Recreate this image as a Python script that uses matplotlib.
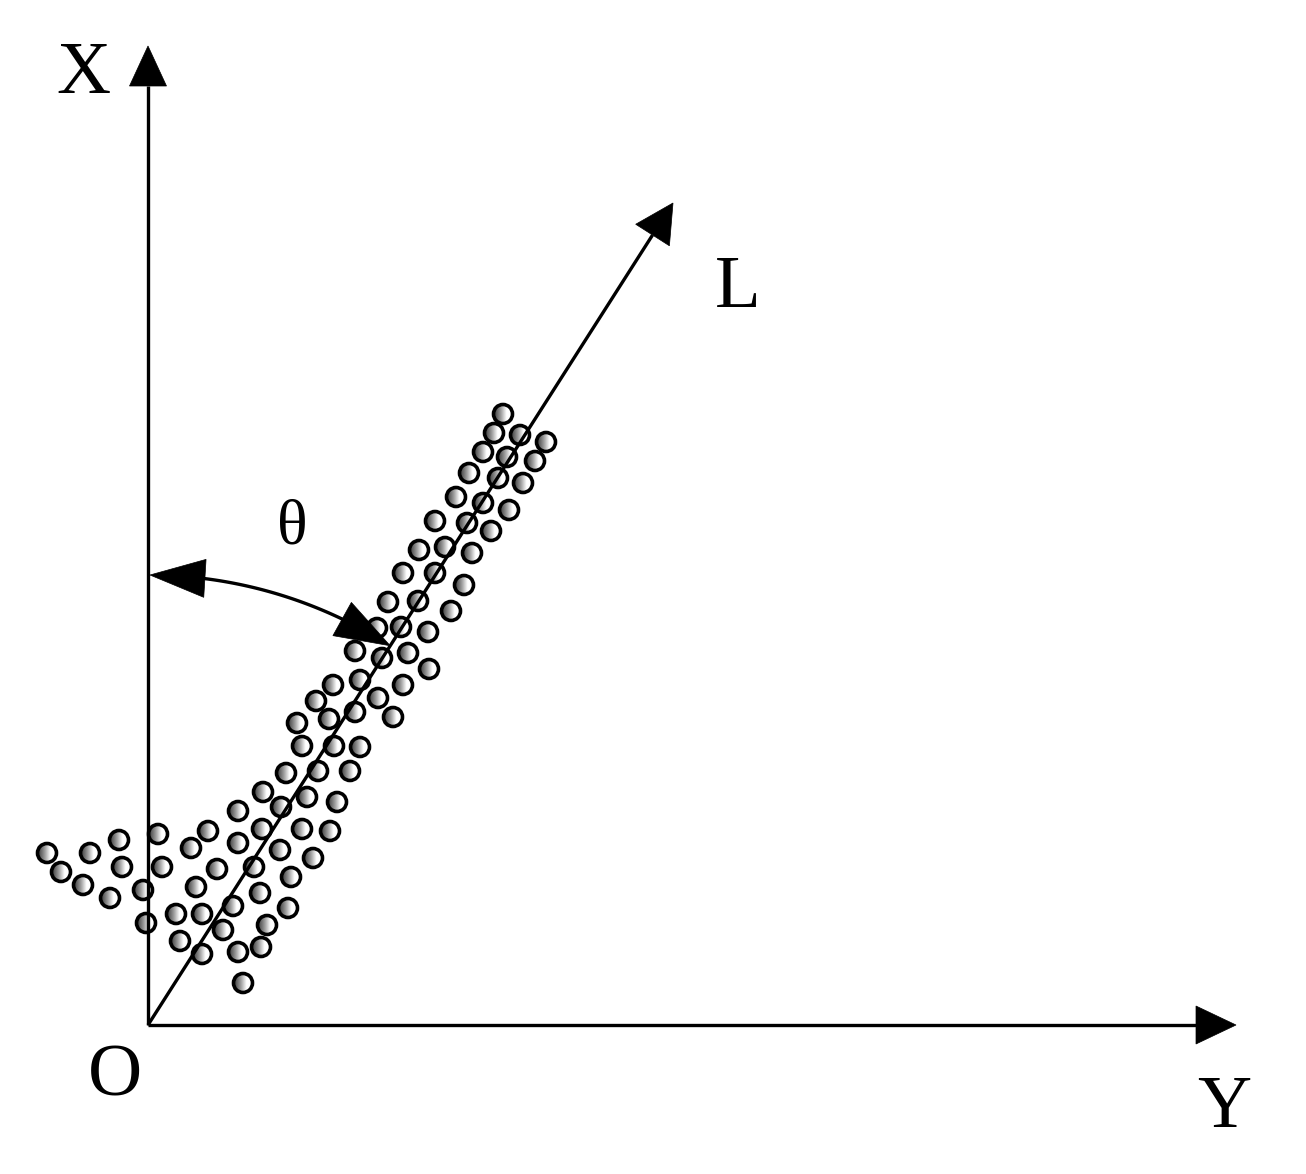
import numpy as np
import matplotlib
matplotlib.use('Agg')
import matplotlib.pyplot as plt
from matplotlib.patches import Circle, Polygon
from matplotlib.colors import LinearSegmentedColormap

# ---------------- data (offsets from origin O, x to the right, y upward) ----------------
pts_x = [-101, -87, -65, -58, -38, -29, -26, -5, -2, 10, 14, 43, 60, 90, 90, 69, 48, 28,
         54, 32, 54, 75, 85, 106, 114, 132, 154, 182, 165, 143, 112, 140, 119, 113, 90, 95,
         133, 159, 189, 115, 138, 170, 202, 154, 186, 212, 149, 168, 181, 207, 185, 212,
         230, 245, 255, 207, 234, 260, 281, 229, 253, 280, 240, 270, 303, 255, 287, 316,
         271, 297, 324, 287, 319, 343, 308, 335, 361, 321, 350, 375, 335, 359, 387, 346,
         372, 398, 355]
pts_y = [172, 153, 140, 172, 127, 185, 158, 135, 102, 191, 158, 177, 194, 214, 182, 156,
         138, 111, 111, 84, 71, 95, 119, 158, 196, 175, 196, 194, 167, 148, 132, 117, 100,
         78, 73, 42, 218, 228, 223, 233, 252, 254, 254, 279, 279, 278, 302, 324, 306, 313,
         340, 345, 327, 308, 340, 374, 367, 372, 356, 397, 398, 393, 423, 424, 414, 452,
         452, 440, 475, 478, 472, 504, 502, 494, 528, 522, 515, 552, 547, 542, 573, 568,
         564, 592, 590, 583, 611]

x_axis_len = 979      # length of vertical axis (labelled X)
y_axis_len = 1088     # length of horizontal axis (labelled Y)
L_tip = (525, 822)    # tip of direction line L
arc_radius = 450

labels = {"X": (-65, 932), "L": (590, 718), "O": (-33, -70), "Y": (1076, -102)}
theta_label = ("θ", (144, 481))

# ---------------- figure ----------------
W, H = 1306, 1174
fig = plt.figure(figsize=(W / 100, H / 100), dpi=100)
ax = fig.add_axes([0, 0, 1, 1])
ax.axis('off')
OX, OY = 148, 1025
xlim = (-OX, W - OX)
ylim = (-(H - OY), OY)

LW = 2.4
FS = 54
font = ['Liberation Serif', 'DejaVu Serif']


def head(tip, direction, length, half_width):
    d = np.asarray(direction, float)
    d = d / np.hypot(*d)
    n = np.array([-d[1], d[0]])
    tip = np.asarray(tip, float)
    base = tip - d * length
    poly = np.array([tip, base + n * half_width, base - n * half_width])
    ax.add_patch(Polygon(poly, closed=True, facecolor='black', edgecolor='black',
                         lw=0.5, zorder=5))
    return base


# points: shaded spheres
cmap = LinearSegmentedColormap.from_list('sh', ['#3c3c3c', '#959595', '#ffffff', '#ffffff'])
grad = np.linspace(0, 1, 64)[None, :]
r = 9.5
for x, y in zip(pts_x, pts_y):
    c = Circle((x, y), r, transform=ax.transData, facecolor='none')
    im = ax.imshow(grad, extent=[x - r, x + r, y - r, y + r], cmap=cmap,
                   aspect='auto', zorder=2, interpolation='bilinear')
    im.set_clip_path(c)
    ax.add_patch(Circle((x, y), r, facecolor='none', edgecolor='black', lw=2.6, zorder=3))

# axes
b = head((0, x_axis_len), (0, 1), 40, 18.5)
ax.plot([0, 0], [0, b[1]], color='black', lw=LW, solid_capstyle='butt', zorder=4)
b = head((y_axis_len, 0), (1, 0), 40, 19)
ax.plot([0, b[0]], [0, 0], color='black', lw=LW, solid_capstyle='butt', zorder=4)

# direction line L
b = head(L_tip, L_tip, 38, 20)
ax.plot([0, b[0]], [0, b[1]], color='black', lw=LW, solid_capstyle='butt', zorder=4)

# theta arc
ang_L = np.degrees(np.arctan2(L_tip[1], L_tip[0]))
a0, a1 = 90.0, ang_L
p0 = np.array([0.0, arc_radius])
p1 = arc_radius * np.array([np.cos(np.radians(a1)), np.sin(np.radians(a1))])
hl = 55
da = np.degrees(hl / arc_radius)
q0 = arc_radius * np.array([np.cos(np.radians(a0 - da)), np.sin(np.radians(a0 - da))])
q1 = arc_radius * np.array([np.cos(np.radians(a1 + da)), np.sin(np.radians(a1 + da))])
head(p0 + np.array([2, 0]), p0 - q0, hl, 19)
head(p1, p1 - q1, hl, 19)
t = np.linspace(np.radians(a0 - da * 0.9), np.radians(a1 + da * 0.9), 100)
ax.plot(arc_radius * np.cos(t), arc_radius * np.sin(t), color='black', lw=LW, zorder=4)

# labels
for s, (x, y) in labels.items():
    ax.text(x, y, s, fontsize=FS, family=font, ha='center', va='baseline', zorder=6)
ax.text(theta_label[1][0], theta_label[1][1], theta_label[0], fontsize=46, family=font,
        ha='center', va='baseline', zorder=6)

ax.set_xlim(*xlim)
ax.set_ylim(*ylim)
fig.savefig('out.png', dpi=100, facecolor='white')
